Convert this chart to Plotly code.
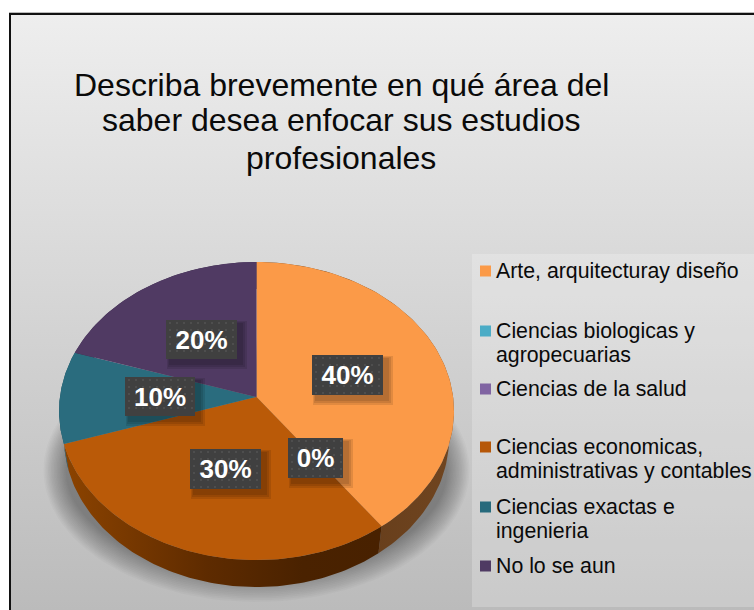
import numpy as np
import plotly.graph_objects as go

# ---------- data ----------
title_lines = ["Describa brevemente en qué área del", "saber desea enfocar sus estudios", "profesionales"]
categories = [
    "Arte, arquitecturay diseño",
    "Ciencias biologicas y<br>agropecuarias",
    "Ciencias de la salud",
    "Ciencias economicas,<br>administrativas y contables",
    "Ciencias exactas e<br>ingenieria",
    "No lo se aun",
]
values = [40, 0, 0, 30, 10, 20]
top_colors = ["#FB9A48", "#4BACC6", "#8064A2", "#BA5A08", "#2A6C7E", "#503A63"]
legend_colors = ["#FB9A48", "#4BACC6", "#8064A2", "#B65708", "#276A7C", "#4F3A63"]
side_scales = [
    [[0, "#5C3616"], [1, "#704520"]],
    [[0, "#2F7F94"], [1, "#2F7F94"]],
    [[0, "#5F4A7A"], [1, "#5F4A7A"]],
    [[0, "#8C4300"], [0.45, "#5E2B00"], [0.75, "#4A2200"], [1, "#482100"]],
    [[0, "#1D4D5A"], [1, "#1D4D5A"]],
    [[0, "#3A2A49"], [1, "#3A2A49"]],
]
label_texts = ["40%", "0%", "30%", "10%", "20%"]

# ---------- layout constants (pixel space) ----------
W, H = 754, 610
APEX = (256.5, 397.0)
A, B, K = 196.6, 147.7, 0.094
ELL_CX, ELL_CY = 256.5, 411.0
DEPTH, BASE_SCALE = 27.0, 0.975
label_boxes = [(312, 383, 355, 395), (288, 343, 438, 478), (190, 261, 449, 489),
               (125, 195, 377, 416), (166, 237, 320, 359)]
legend_y = [271, 331, 389, 447, 507, 566]
title_y = [85, 120, 158]
LINE_STEP = 24


def rim(t0, t1, n=90):
    """Perspective projection of a circular arc; t in turns, clockwise from top."""
    a = 2 * np.pi * np.linspace(t0, t1, n)
    u, v = np.sin(a), np.cos(a)
    d = 1 + K * v
    return APEX[0] + A * u / d, APEX[1] - B * v / d


def base(x, y):
    return ELL_CX + (x - ELL_CX) * BASE_SCALE, y + DEPTH


def poly(x, y, **kw):
    return go.Scatter(x=list(x), y=list(y), mode="lines", fill="toself",
                      line=dict(width=0), hoverinfo="skip", showlegend=False, **kw)


def rect(x0, x1, y0, y1, color):
    return poly([x0, x1, x1, x0, x0], [y0, y0, y1, y1, y0], fillcolor=color)


fig = go.Figure()

# background panel with vertical gradient
fig.add_trace(poly([11, W, W, 11, 11], [14, 14, H, H, 14],
                   fillgradient=dict(type="vertical", start=14, stop=H,
                                     colorscale=[[0, "#EEEEEE"], [1, "#BBBBBB"]])))
# legend panel
fig.add_trace(rect(472, W, 254, 607, "rgba(255,255,255,0.22)"))

# soft shadow under the pie
for i in range(16):
    f = i / 15
    a = np.linspace(0, 2 * np.pi, 160)
    rx, ry = 213 - 22 * f, 132 - 26 * f
    fig.add_trace(poly(ELL_CX + rx * np.cos(a), 470 + ry * np.sin(a),
                       fillcolor="rgba(0,0,0,0.024)"))

# pie sides, then top faces, computed from the values
fractions = np.array(values, dtype=float) / sum(values)
edges = np.concatenate([[0], np.cumsum(fractions)])
for i in range(len(values)):
    if values[i] == 0:
        continue
    x, y = rim(edges[i], edges[i + 1])
    bx, by = base(x, y)
    fig.add_trace(poly(np.r_[x, bx[::-1], x[0]], np.r_[y, by[::-1], y[0]],
                       fillgradient=dict(type="horizontal", colorscale=side_scales[i])))
for i in range(len(values)):
    if values[i] == 0:
        continue
    x, y = rim(edges[i], edges[i + 1])
    fig.add_trace(poly(np.r_[APEX[0], x, APEX[0]], np.r_[APEX[1], y, APEX[1]],
                       fillcolor=top_colors[i]))

# data labels: shadow, box, dotted texture, text
for (x0, x1, y0, y1) in label_boxes:
    for g in (6, 4, 2):
        fig.add_trace(rect(x0 + 4 - g / 2, x1 + 4 + g, y0 + 4 - g / 2, y1 + 4 + g,
                           "rgba(0,0,0,0.10)"))
    fig.add_trace(rect(x0, x1, y0, y1, "#404040"))
    gx, gy = np.meshgrid(np.arange(x0 + 4, x1 - 1, 7.0), np.arange(y0 + 3, y1 - 1, 7.0))
    fig.add_trace(go.Scatter(x=gx.ravel(), y=gy.ravel(), mode="markers", hoverinfo="skip",
                             showlegend=False, marker=dict(symbol="square", size=2, color="#4E4E4E")))
fig.add_trace(go.Scatter(
    x=[(b[0] + b[1]) / 2 for b in label_boxes],
    y=[(b[2] + b[3]) / 2 + 2.5 for b in label_boxes],
    text=label_texts, mode="text", hoverinfo="skip", showlegend=False,
    textposition="middle center",
    textfont=dict(family="Liberation Sans", size=26, color="white", weight="bold")))

# legend swatches and text
fig.add_trace(go.Scatter(x=[485.5] * len(categories), y=legend_y, mode="markers", hoverinfo="skip",
                         showlegend=False,
                         marker=dict(symbol="square", size=11, color=legend_colors, line=dict(width=0))))
annotations = []
for cat, ly in zip(categories, legend_y):
    for j, line in enumerate(cat.split("<br>")):
        annotations.append(dict(x=495, y=ly + j * LINE_STEP, xref="x", yref="y", text=line,
                                showarrow=False, xanchor="left", yanchor="middle", align="left",
                                xshift=-1, font=dict(family="Liberation Sans", size=21.3, color="#0A0A0A")))
for line, ty in zip(title_lines, title_y):
    annotations.append(dict(x=341, y=ty, xref="x", yref="y", text=line, showarrow=False,
                            xanchor="center", yanchor="middle",
                            font=dict(family="Liberation Sans", size=32, color="#0A0A0A")))

fig.update_layout(
    width=W, height=H, autosize=False,
    margin=dict(l=0, r=0, t=0, b=0),
    paper_bgcolor="white", plot_bgcolor="white",
    showlegend=False,
    xaxis=dict(range=[0, W], visible=False, fixedrange=True),
    yaxis=dict(range=[H, 0], visible=False, fixedrange=True),
    annotations=annotations,
    shapes=[
        dict(type="line", xref="x", yref="y", x0=10, x1=10, y0=13, y1=H, line=dict(color="#111111", width=2)),
        dict(type="line", xref="x", yref="y", x0=9, x1=W, y0=14, y1=14, line=dict(color="#111111", width=2)),
        dict(type="line", xref="x", yref="y", x0=9, x1=W, y0=12.5, y1=12.5, line=dict(color="#BBBBBB", width=1)),
    ],
)
fig.write_html("out.html", config=dict(displayModeBar=False),
               post_script="document.body.style.margin='0';document.body.style.overflow='hidden';")
